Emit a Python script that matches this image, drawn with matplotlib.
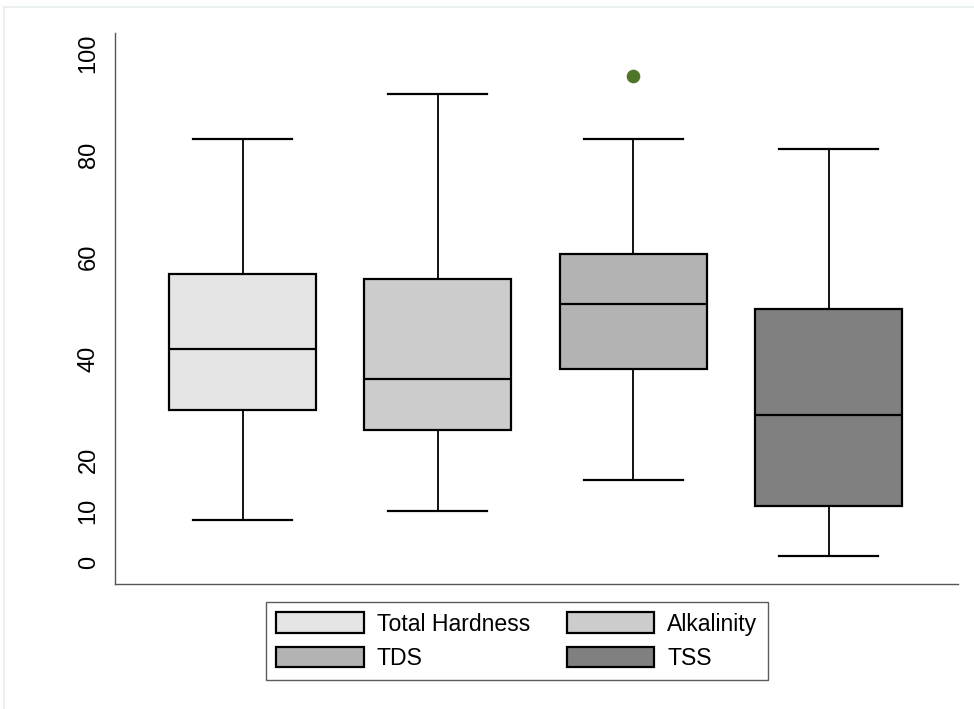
import matplotlib
matplotlib.use("Agg")
import matplotlib.pyplot as plt
from matplotlib.patches import Patch
from matplotlib.lines import Line2D

plt.rcParams['font.family'] = ['Liberation Sans', 'DejaVu Sans']

# Summary statistics per parameter
categories = ["Total Hardness", "Alkalinity", "TDS", "TSS"]
whisker_low = [8.3, 10.0, 16.1, 1.2]
q1 = [29.8, 25.9, 37.9, 11.1]
median = [41.9, 35.9, 50.7, 28.9]
q3 = [56.6, 55.6, 60.5, 49.7]
whisker_high = [83.1, 92.1, 83.1, 81.2]
outliers = [[], [], [95.6], []]
fills = ["#E5E5E5", "#CCCCCC", "#B3B3B3", "#808080"]
yticks = [0, 10, 20, 40, 60, 80, 100]

stats = []
for i, name in enumerate(categories):
    stats.append(dict(label=name, whislo=whisker_low[i], q1=q1[i], med=median[i],
                      q3=q3[i], whishi=whisker_high[i], fliers=outliers[i]))

fig = plt.figure(figsize=(9.74, 7.09), dpi=100)
ax = fig.add_axes([115/974, 1 - 584/709, (958 - 115)/974, (584 - 33)/709])

positions = [1, 2, 3, 4]
bp = ax.bxp(stats, positions=positions, widths=0.753, capwidths=0.507,
            patch_artist=True, showfliers=True,
            boxprops=dict(linewidth=1.6, edgecolor="black"),
            medianprops=dict(color="black", linewidth=1.6),
            whiskerprops=dict(color="black", linewidth=1.3),
            capprops=dict(color="black", linewidth=1.6),
            flierprops=dict(marker="o", markersize=8.8, markerfacecolor="#4F7628",
                            markeredgecolor="#4F7628", linestyle="none"))
for box, c in zip(bp["boxes"], fills):
    box.set_facecolor(c)

ax.set_xlim(0.347, 4.663)
ax.set_ylim(-4.32, 104.0)
ax.set_xticks([])
ax.set_yticks(yticks)
ax.set_yticklabels([str(t) for t in yticks], rotation=90, va="center", fontsize=17)
ax.tick_params(axis="y", length=0, pad=11)

for side in ("top", "right"):
    ax.spines[side].set_visible(False)
for side in ("left", "bottom"):
    ax.spines[side].set_color("#555555")
    ax.spines[side].set_linewidth(1.0)

# Legend filled row by row: reorder for matplotlib's column-major layout
order = [0, 2, 1, 3]
handles = [Patch(facecolor=fills[i], edgecolor="black", linewidth=1.6) for i in order]
labels = [categories[i] for i in order]
leg = fig.legend(handles, labels, ncol=2, loc="upper left",
                 bbox_to_anchor=(266/974, 1 - 602/709), bbox_transform=fig.transFigure,
                 fontsize=16.6, frameon=True, fancybox=False, borderaxespad=0,
                 borderpad=0.45, handlelength=3.8, handleheight=1.0,
                 handletextpad=0.55, columnspacing=1.6, labelspacing=0.48)
leg.get_frame().set_edgecolor("#333333")
leg.get_frame().set_linewidth(1.0)

# Faint outer frame
fig.add_artist(Line2D([4/974, 1], [1 - 7/709, 1 - 7/709], transform=fig.transFigure,
                      color="#E6ECEE", linewidth=1.2))
fig.add_artist(Line2D([4/974, 4/974], [0, 1 - 7/709], transform=fig.transFigure,
                      color="#E6ECEE", linewidth=1.2))

fig.savefig("out.png", dpi=100, facecolor="white")
